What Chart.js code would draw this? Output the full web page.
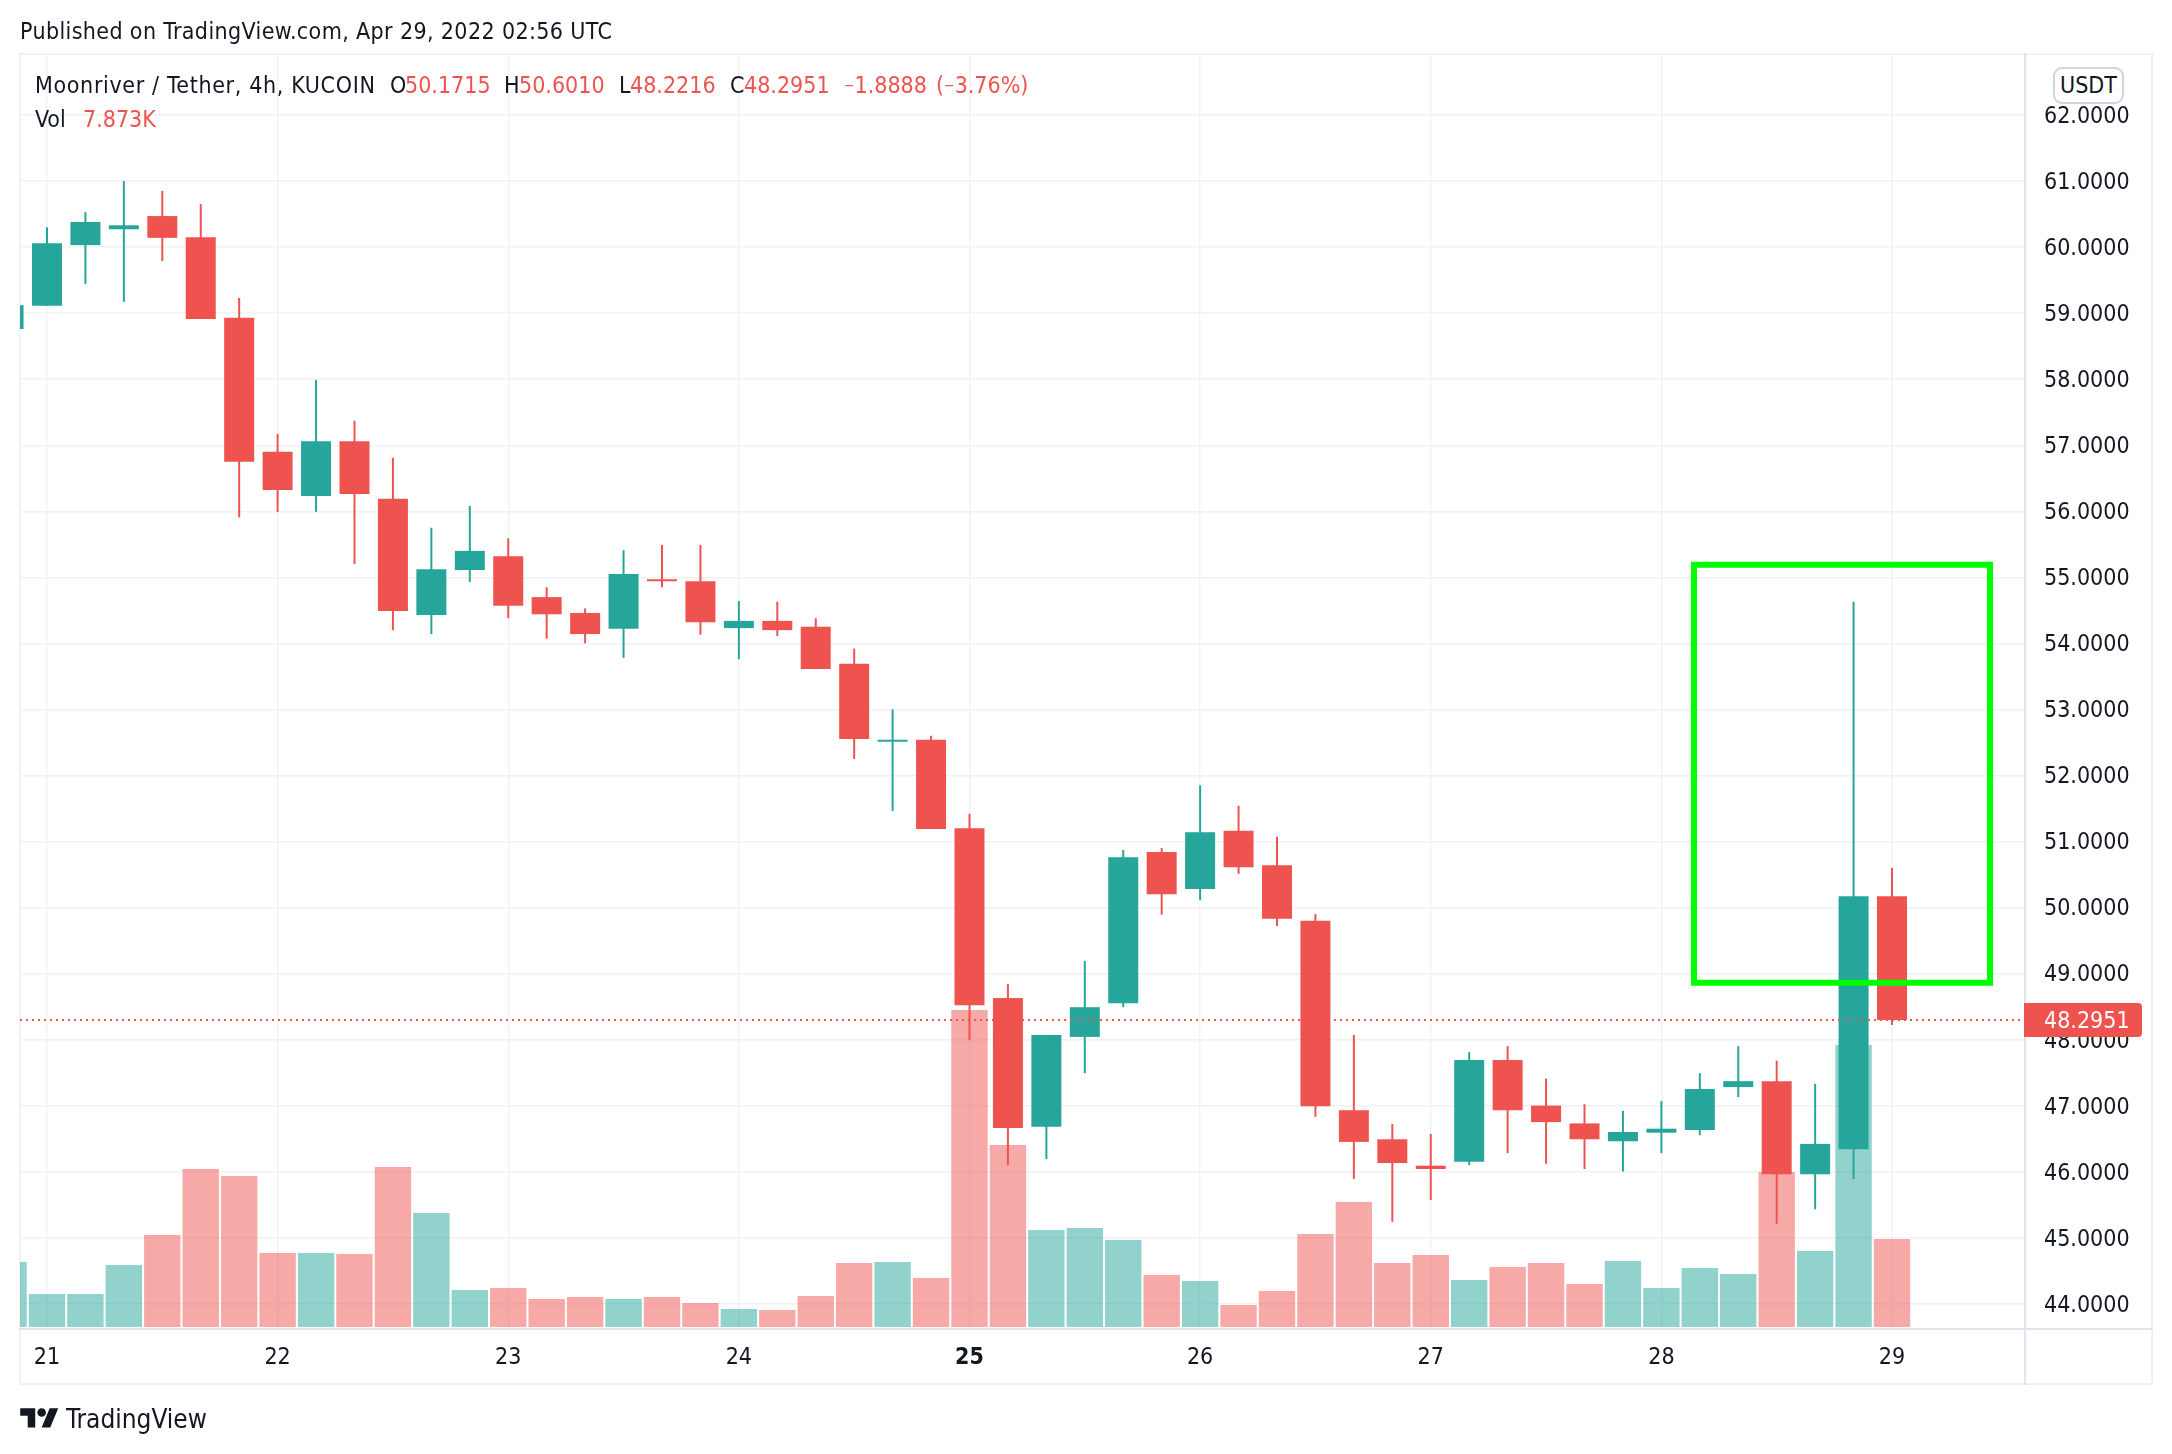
<!DOCTYPE html>
<html>
<head>
<meta charset="utf-8">
<title>Moonriver / Tether, 4h, KUCOIN</title>
<script src="https://cdn.jsdelivr.net/npm/chart.js@4"></script>
<style>
html,body{margin:0;padding:0;background:#fff;width:2172px;height:1454px;overflow:hidden}
#wrap{position:relative;width:2172px;height:1454px;font-family:"DejaVu Sans Condensed","DejaVu Sans",sans-serif;color:#131722;font-size:23px}
canvas{position:absolute;left:0;top:0}
.t{position:absolute;white-space:pre;line-height:28px}
.r{color:#ef5350}
.m{font-size:14px;position:relative;top:-3px}
#usdt{position:absolute;left:2053px;top:67px;width:67px;height:33px;border:2px solid #d1d4dc;border-radius:9px;background:#fff;text-align:center;line-height:33px}
</style>
</head>
<body>
<div id="wrap">
<canvas id="c" width="2172" height="1454"></canvas>
<div class="t" style="left:20px;top:17px;letter-spacing:0.37px">Published on TradingView.com, Apr 29, 2022 02:56 UTC</div>
<div class="t" style="left:35px;top:71px;letter-spacing:0.65px">Moonriver / Tether, 4h, KUCOIN</div>
<div class="t" style="left:390px;top:71px">O</div><div class="t r" style="left:405px;top:71px">50.1715</div>
<div class="t" style="left:504px;top:71px">H</div><div class="t r" style="left:519px;top:71px">50.6010</div>
<div class="t" style="left:619px;top:71px">L</div><div class="t r" style="left:630px;top:71px">48.2216</div>
<div class="t" style="left:730px;top:71px">C</div><div class="t r" style="left:744px;top:71px">48.2951</div>
<div class="t r" style="left:844px;top:71px"><span class="m">−</span>1.8888</div>
<div class="t r" style="left:936px;top:71px">(<span class="m">−</span>3.76%)</div>
<div class="t" style="left:35px;top:105px">Vol</div><div class="t r" style="left:83px;top:105px">7.873K</div>
<div id="usdt">USDT</div>
<svg style="position:absolute;left:20px;top:1404px" width="39" height="30" viewBox="0 0 36 28"><path fill="#131722" d="M14 22H7V11H0V4h14v18zM28 22h-8l7.5-18h8L28 22z"/><circle fill="#131722" cx="20" cy="8" r="4"/></svg>
<div class="t" style="left:66px;top:1405px;font-size:26px">TradingView</div>
</div>
<script>
const dayLabels=['21','22','23','24','25','26','27','28','29'];
const dayIndex=[0,6,12,18,24,30,36,42,48];
const priceTicks=[44,45,46,47,48,49,50,51,52,53,54,55,56,57,58,59,60,61,62];
const candleIndex=[-1,0,1,2,3,4,5,6,7,8,9,10,11,12,13,14,15,16,17,18,19,20,21,22,23,24,25,26,27,28,29,30,31,32,33,34,35,36,37,38,39,40,41,42,43,44,45,46,47,48];
const opens=[58.76,59.11,60.03,60.27,60.47,60.15,58.93,56.90,56.23,57.06,56.19,54.43,55.11,55.32,54.70,54.46,54.22,54.97,54.94,54.23,54.34,54.25,53.69,52.51,52.54,51.20,48.63,46.68,48.04,48.55,50.84,50.28,51.16,50.64,49.80,46.93,46.49,46.09,46.15,47.69,47.00,46.73,46.46,46.59,46.63,47.28,47.37,45.96,46.34,50.1715];
const highs=[59.12,60.30,60.53,61.00,60.85,60.65,59.23,57.17,57.99,57.37,56.81,55.75,56.08,55.59,54.85,54.53,55.41,55.49,55.49,54.64,54.63,54.38,53.92,53.00,52.60,51.42,48.84,48.07,49.19,50.87,50.90,51.85,51.54,51.07,49.90,48.07,46.72,46.57,47.81,47.90,47.41,47.02,46.92,47.07,47.49,47.90,47.68,47.33,54.63,50.6010];
const lows=[58.76,59.11,59.44,59.17,59.79,58.91,55.91,55.99,55.99,55.20,54.20,54.14,54.93,54.38,54.07,54.00,53.78,54.85,54.13,53.76,54.11,53.61,52.25,51.46,51.19,47.99,46.10,46.19,47.49,48.49,49.89,50.11,50.51,49.72,46.83,45.89,45.24,45.57,46.10,46.28,46.12,46.04,46.00,46.28,46.55,47.13,45.21,45.43,45.89,48.2216];
const closes=[59.12,60.06,60.38,60.33,60.14,58.91,56.75,56.32,57.06,56.26,54.49,55.12,55.40,54.57,54.44,54.14,55.05,54.94,54.32,54.34,54.20,53.61,52.55,52.54,51.19,48.52,46.66,48.07,48.49,50.76,50.20,51.14,50.61,49.83,46.99,46.45,46.13,46.04,47.69,46.93,46.75,46.49,46.60,46.65,47.25,47.37,45.96,46.42,50.17,48.2951];
const volumesK=[5.82,2.95,2.95,5.55,8.23,14.14,13.51,6.62,6.62,6.53,14.32,10.20,3.31,3.49,2.51,2.68,2.51,2.68,2.15,1.61,1.52,2.77,5.73,5.82,4.38,28.37,16.29,8.68,8.86,7.79,4.65,4.12,1.97,3.22,8.32,11.19,5.73,6.44,4.21,5.37,5.73,3.85,5.91,3.49,5.28,4.74,13.87,6.80,25.24,7.873];
const lastPrice=48.2951;
const boxLeftIndex=42.85, boxRightIndex=50.55, boxTopPrice=55.19, boxBottomPrice=48.86;

const UP='#26a69a', DOWN='#ef5350', UPV='rgba(38,166,154,0.5)', DOWNV='rgba(239,83,80,0.5)';
const FONT='"DejaVu Sans Condensed","DejaVu Sans",sans-serif';
const isUp=i=>closes[i]>=opens[i];
const xMin=-0.702, xMax=51.46;

const framePlugin={
  id:'frame',
  beforeDraw(ch){
    const c=ch.ctx,Y=ch.scales.y;
    if(!Y._labelShift){
      Y._labelShift=true;
      const orig=Y.drawLabels;
      Y.drawLabels=function(area){c.save();c.translate(0,2);orig.call(this,area);c.restore();};
    }
    c.save();
    c.fillStyle='#f0f0f5';
    c.fillRect(19,53,2133,2);
    c.fillRect(19,1383,2133,2);
    c.fillRect(19,53,2,1332);
    c.fillRect(2151,53,2,1332);
    c.restore();
  },
  afterDatasetsDraw(ch){
    const c=ch.ctx,X=ch.scales.x,Y=ch.scales.y;
    c.save();
    c.strokeStyle='#00ff00';
    c.lineWidth=6;
    c.lineJoin='miter';
    c.strokeRect(X.getPixelForValue(boxLeftIndex),Y.getPixelForValue(boxTopPrice),
      X.getPixelForValue(boxRightIndex)-X.getPixelForValue(boxLeftIndex),
      Y.getPixelForValue(boxBottomPrice)-Y.getPixelForValue(boxTopPrice));
    c.restore();
  },
  afterDraw(ch){
    const c=ch.ctx,a=ch.chartArea,Y=ch.scales.y;
    c.save();
    c.fillStyle='#e0e3eb';
    c.fillRect(19,a.bottom-1,2134,2);
    c.fillRect(a.right-1,53,2,1332);
    const py=Y.getPixelForValue(lastPrice);
    c.fillStyle=DOWN;
    c.beginPath();
    c.roundRect(a.right-1,py-17,118,34,[0,4,4,0]);
    c.fill();
    c.fillStyle='#fff';
    c.font='23px '+FONT;
    c.textAlign='left';
    c.textBaseline='middle';
    c.fillText(lastPrice.toFixed(4),2044,py+2);
    c.restore();
  }
};

const gridColor='#f1f2f4';
new Chart(document.getElementById('c'),{
  data:{datasets:[
    {type:'line',order:0,xAxisID:'x',yAxisID:'y',
     data:[{x:xMin,y:lastPrice},{x:xMax,y:lastPrice}],
     borderColor:DOWN,borderWidth:2,borderDash:[2,4],pointRadius:0,fill:false},
    {type:'bar',order:1,grouped:false,xAxisID:'x',yAxisID:'y',
     data:candleIndex.map((v,i)=>({x:v,y:[opens[i],closes[i]]})),
     backgroundColor:candleIndex.map((v,i)=>isUp(i)?UP:DOWN),
     barThickness:30,borderWidth:0,borderSkipped:false,inflateAmount:0},
    {type:'bar',order:2,grouped:false,xAxisID:'x',yAxisID:'y',
     data:candleIndex.map((v,i)=>({x:v,y:[lows[i],highs[i]]})),
     backgroundColor:candleIndex.map((v,i)=>isUp(i)?UP:DOWN),
     barThickness:2,borderWidth:0,borderSkipped:false,inflateAmount:0},
    {type:'bar',order:3,grouped:false,xAxisID:'x',yAxisID:'v',
     data:candleIndex.map((v,i)=>({x:v,y:volumesK[i]})),
     backgroundColor:candleIndex.map((v,i)=>isUp(i)?UPV:DOWNV),
     barThickness:36.4,borderWidth:0,inflateAmount:0}
  ]},
  options:{
    responsive:false,animation:false,devicePixelRatio:1,
    layout:{padding:{left:20,top:54,right:20,bottom:70}},
    plugins:{legend:{display:false},tooltip:{enabled:false},title:{display:false}},
    scales:{
      x:{type:'linear',min:xMin,max:xMax,position:'bottom',offset:false,
        afterBuildTicks(s){s.ticks=dayIndex.map(v=>({value:v}));},
        afterFit(s){s.height=55;},
        border:{display:false},
        grid:{offset:false,color:gridColor,lineWidth:1.4,drawTicks:false},
        ticks:{autoSkip:false,maxRotation:0,minRotation:0,padding:15,color:'#131722',
          font:ctx=>({family:FONT,size:23,weight:ctx.tick&&ctx.tick.value===24?'bold':'normal'}),
          callback:v=>{const k=dayIndex.indexOf(v);return k>=0?dayLabels[k]:'';}}},
      y:{type:'linear',min:43.617,max:62.924,position:'right',
        afterBuildTicks(s){s.ticks=priceTicks.map(v=>({value:v}));},
        afterFit(s){s.width=127;},
        border:{display:false},
        grid:{color:gridColor,lineWidth:1.4,drawTicks:false},
        ticks:{autoSkip:false,padding:19,color:'#131722',font:{family:FONT,size:23},
          callback:v=>v.toFixed(4)}},
      v:{type:'linear',display:false,min:-0.179,max:113.9,position:'left',grid:{display:false}}
    }
  },
  plugins:[framePlugin]
});
</script>
</body>
</html>
